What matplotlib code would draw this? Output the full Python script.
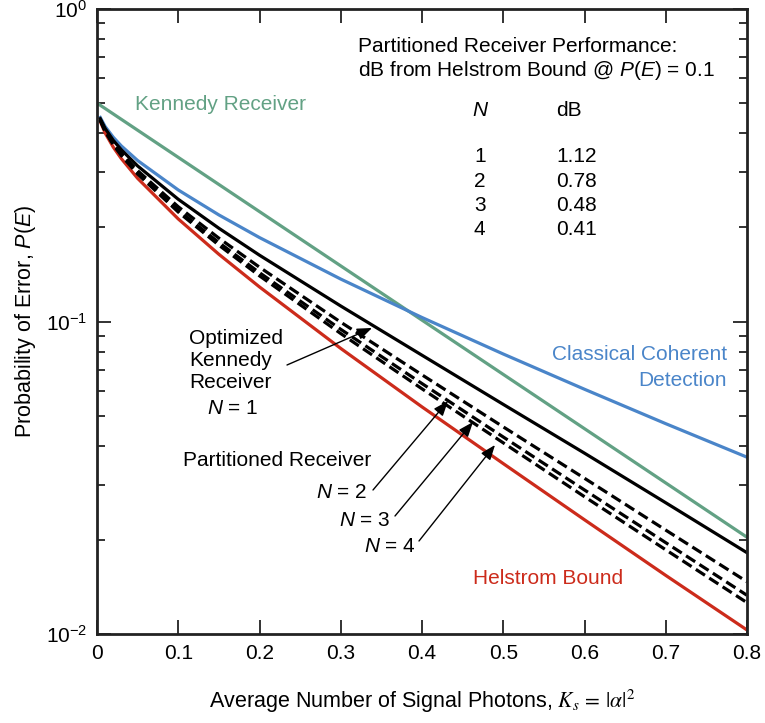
import matplotlib
matplotlib.use("Agg")
import matplotlib.pyplot as plt
from matplotlib.ticker import LogLocator, NullFormatter, FixedLocator

plt.rcParams["font.family"] = ["Liberation Sans", "DejaVu Sans"]
plt.rcParams["mathtext.fontset"] = "custom"
plt.rcParams["mathtext.rm"] = "Liberation Sans"
plt.rcParams["mathtext.it"] = "Liberation Sans:italic"

# average signal photons K_s
photons = [0.004, 0.01, 0.02, 0.03, 0.05, 0.1, 0.15, 0.2, 0.3, 0.4, 0.5, 0.6, 0.7, 0.8]
helstrom = [0.437, 0.401, 0.3614, 0.3319, 0.2871, 0.2129, 0.1641, 0.1290, 0.0820,
            0.0533, 0.0351, 0.0232, 0.0154, 0.0103]
classical = [0.4497, 0.4207, 0.3887, 0.3645, 0.3274, 0.2636, 0.2193, 0.1856, 0.1367,
             0.1030, 0.0787, 0.0607, 0.0471, 0.0368]
opt_kennedy = [0.4458, 0.4148, 0.380, 0.3543, 0.3146, 0.2461, 0.1988, 0.1630, 0.1121,
               0.0780, 0.0543, 0.0379, 0.0263, 0.0182]
partitioned_2 = [0.4425, 0.4095, 0.3728, 0.3456, 0.3039, 0.2329, 0.1848, 0.1492, 0.0995,
                 0.0675, 0.0460, 0.0315, 0.0215, 0.0147]
partitioned_3 = [0.4410, 0.4071, 0.3697, 0.3418, 0.2992, 0.2272, 0.1789, 0.1433, 0.0944,
                 0.0633, 0.0427, 0.0289, 0.0196, 0.0133]
partitioned_4 = [0.4401, 0.4058, 0.3678, 0.3396, 0.2964, 0.2240, 0.1755, 0.1400, 0.0915,
                 0.0609, 0.0409, 0.0275, 0.0186, 0.0126]
kennedy_photons = [0, 0.2, 0.4, 0.6, 0.8]
kennedy = [0.5, 0.2247, 0.1010, 0.0454, 0.0204]

x_ticks = [0, 0.1, 0.2, 0.3, 0.4, 0.5, 0.6, 0.7, 0.8]
x_tick_labels = ["0", "0.1", "0.2", "0.3", "0.4", "0.5", "0.6", "0.7", "0.8"]
table_n = ["1", "2", "3", "4"]
table_db = ["1.12", "0.78", "0.48", "0.41"]

GREEN = "#62a184"
BLUE = "#4a85c9"
RED = "#cc2b1b"

fig = plt.figure(figsize=(7.65, 7.23), dpi=100)
ax = fig.add_axes([97 / 765, 1 - 634 / 723, 650 / 765, 625 / 723])

lw = 2.3
ax.plot(kennedy_photons, kennedy, color=GREEN, lw=lw)
ax.plot(photons, classical, color=BLUE, lw=lw)
ax.plot(photons, helstrom, color=RED, lw=lw)
for vals in (partitioned_2, partitioned_3, partitioned_4):
    ax.plot(photons, vals, color="black", lw=lw, dashes=(3.4, 1.6))
ax.plot(photons, opt_kennedy, color="black", lw=lw)

ax.set_yscale("log")
ax.set_xlim(0, 0.8)
ax.set_ylim(0.01, 1)
ax.xaxis.set_major_locator(FixedLocator(x_ticks))
ax.set_xticklabels(x_tick_labels)
ax.yaxis.set_major_locator(LogLocator(base=10, numticks=5))
ax.yaxis.set_minor_locator(LogLocator(base=10, subs=range(2, 10), numticks=20))
ax.yaxis.set_minor_formatter(NullFormatter())
ax.tick_params(which="both", direction="in", top=True, right=True, labelsize=15,
               width=1.3, color="#222222")
ax.tick_params(which="major", length=10, pad=7)
ax.tick_params(which="minor", length=6)
for s in ax.spines.values():
    s.set_linewidth(2)
    s.set_color("#222222")

ax.set_xlabel(r"Average Number of Signal Photons, $K_s\,=\,|\alpha|^2$", fontsize=15.5,
              labelpad=18, math_fontfamily="stix")
ax.set_ylabel(r"Probability of Error, $P(E)$", fontsize=15.5, labelpad=6)

fs = 15


def fx(px):
    return (px - 97) / 650


def fy(py):
    return (634 - py) / 625


tr = ax.transAxes


def label(px, py, s, **kw):
    ax.text(fx(px), fy(py), s, fontsize=fs, transform=tr, va="center", **kw)


label(135, 104, "Kennedy Receiver", color=GREEN)
label(358, 47, "Partitioned Receiver Performance:")
label(358, 70, r"dB from Helstrom Bound @ $P(E)$ = 0.1")
label(472, 110, r"$N$")
label(556, 110, "dB")
for i, (n, d) in enumerate(zip(table_n, table_db)):
    y = 157 + i * 24.3
    label(474, y, n)
    label(556, y, d)

label(727, 355, "Classical Coherent", color=BLUE, ha="right")
label(727, 380, "Detection", color=BLUE, ha="right")
label(473, 578, "Helstrom Bound", color=RED)

label(189, 339, "Optimized")
label(189, 361, "Kennedy")
label(189, 383, "Receiver")
label(207, 409, r"$N$ = 1")
label(183, 461, "Partitioned Receiver")
label(367, 493, r"$N$ = 2", ha="right")
label(391, 520, r"$N$ = 3", ha="right")
label(416, 546, r"$N$ = 4", ha="right")

arrows = [((287, 365), (372, 328)),
          ((373, 490), (448, 401)),
          ((395, 516), (473, 422)),
          ((419, 541), (495, 445))]
for (x0, y0), (x1, y1) in arrows:
    ax.annotate("", xy=(fx(x1), fy(y1)), xytext=(fx(x0), fy(y0)), xycoords=tr, textcoords=tr,
                arrowprops=dict(arrowstyle="-|>,head_length=0.9,head_width=0.35", color="black",
                                lw=1.0, shrinkA=0, shrinkB=0))

fig.savefig("out.png", dpi=100)
